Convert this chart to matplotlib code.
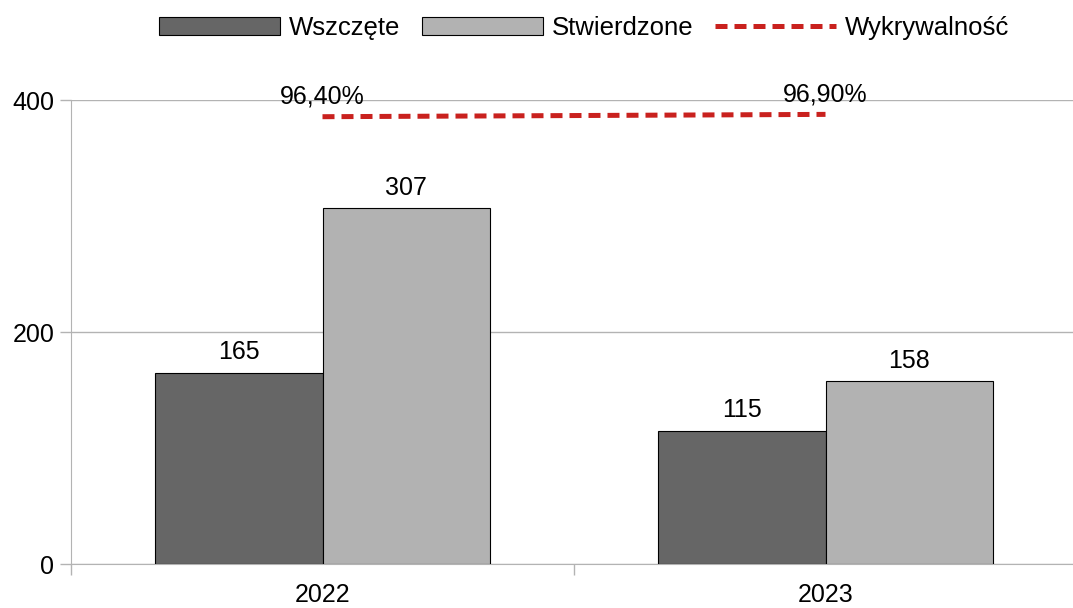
import numpy as np
import matplotlib
matplotlib.use("Agg")
import matplotlib.pyplot as plt
from matplotlib.patches import Patch
from matplotlib.lines import Line2D

years = ["2022", "2023"]
wszczete = [165, 115]
stwierdzone = [307, 158]
wykrywalnosc = [0.964, 0.969]
wykr_labels = ["96,40%", "96,90%"]

plt.rcParams["font.family"] = ["Liberation Sans", "DejaVu Sans"]
plt.rcParams["font.size"] = 18

dark = "#666666"
light = "#b2b2b2"
red = "#c9211e"
grid = "#b3b3b3"

fig = plt.figure(figsize=(10.73, 6.08), dpi=100)
ax = fig.add_axes([71 / 1073, 1 - 564 / 608, 1006 / 1073, 464 / 608])

x = np.arange(len(years))
w = 1 / 3
b1 = ax.bar(x - w / 2, wszczete, w, color=dark, edgecolor="black", linewidth=0.8, zorder=3)
b2 = ax.bar(x + w / 2, stwierdzone, w, color=light, edgecolor="black", linewidth=0.8, zorder=3)

for bars, vals in ((b1, wszczete), (b2, stwierdzone)):
    for r, v in zip(bars, vals):
        ax.annotate(str(v), (r.get_x() + r.get_width() / 2, v), xytext=(0, 9.5),
                    textcoords="offset points", ha="center", va="baseline")

ax.set_xlim(-0.5, len(years) - 0.5)
ax.set_ylim(0, 400)
ax.set_yticks([0, 200, 400])
ax.yaxis.grid(True, color=grid, linewidth=1, zorder=0)
ax.set_axisbelow(True)
ax.tick_params(axis="y", length=8, width=1, color=grid, pad=4)

ax.set_xticks(x)
ax.set_xticklabels(years)
ax.set_xticks(np.arange(len(years) + 1) - 0.5, minor=True)
ax.tick_params(axis="x", which="major", length=0, pad=14)
ax.tick_params(axis="x", which="minor", length=8, width=1, color=grid)

for s in ("top", "right"):
    ax.spines[s].set_visible(False)
ax.spines["left"].set_color(grid)
ax.spines["bottom"].set_color(grid)

ax2 = ax.twinx()
ax2.set_ylim(0, 1)
ax2.axis("off")
ax2.plot(x, wykrywalnosc, color=red, linewidth=3.6, dashes=(2.4, 1.4),
         solid_capstyle="butt", dash_capstyle="butt", zorder=4)
for xi, v, lab in zip(x, wykrywalnosc, wykr_labels):
    ax2.annotate(lab, (xi, v), xytext=(0, 9.5), textcoords="offset points",
                 ha="center", va="baseline")

handles = [
    Patch(facecolor=dark, edgecolor="black", linewidth=0.8),
    Patch(facecolor=light, edgecolor="black", linewidth=0.8),
    Line2D([], [], color=red, linewidth=3.6, dashes=(2.4, 1.4), dash_capstyle="butt"),
]
fig.legend(handles, ["Wszczęte", "Stwierdzone", "Wykrywalność"], loc="center",
           bbox_to_anchor=(584 / 1073, 1 - 28 / 608), ncol=3, frameon=False,
           fontsize=18.5, handlelength=4.7, handleheight=0.65, handletextpad=0.35,
           columnspacing=0.85, borderpad=0)

fig.savefig("out.png", dpi=100)
